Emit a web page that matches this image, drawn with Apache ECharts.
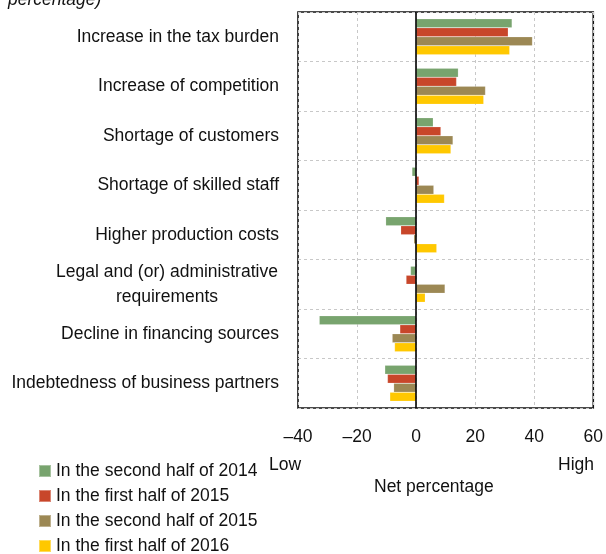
<!DOCTYPE html>
<html>
<head>
<meta charset="utf-8">
<script src="https://cdn.jsdelivr.net/npm/echarts@6/dist/echarts.min.js"></script>
<style>
  html, body { margin: 0; padding: 0; background: #fff; }
  #chart { width: 606px; height: 554px; }
</style>
</head>
<body>
<div id="chart"></div>
<script>
// Factors limiting business activity, net percentage
const categories = [
  'Increase in the tax burden',
  'Increase of competition',
  'Shortage of customers',
  'Shortage of skilled staff',
  'Higher production costs',
  'Legal and (or) administrative\nrequirements',
  'Decline in financing sources',
  'Indebtedness of business partners'
];
const seriesNames = [
  'In the second half of 2014',
  'In the first half of 2015',
  'In the second half of 2015',
  'In the first half of 2016'
];
const h2_2014 = [32.5, 14.3, 5.8, -1.4, -10.3, -1.9, -32.8, -10.6];
const h1_2015 = [31.2, 13.7, 8.4, 1.0, -5.2, -3.4, -5.5, -9.7];
const h2_2015 = [39.4, 23.5, 12.5, 6.0, -0.8, 9.8, -8.1, -7.6];
const h1_2016 = [31.7, 22.9, 11.8, 9.6, 7.0, 3.1, -7.3, -8.9];
const xTicks = [-40, -20, 0, 20, 40, 60];

const colors = ['#78a46e', '#c8462a', '#9c8854', '#ffc800'];
const values = [h2_2014, h1_2015, h2_2015, h1_2016];
const FONT = '"Liberation Sans", Arial, sans-serif';
const FS = 17.5;

const chart = echarts.init(document.getElementById('chart'));

const series = values.map((v, i) => {
  const s = {
    name: seriesNames[i],
    type: 'bar',
    data: v,
    barWidth: 9,
    barGap: '0%',
    itemStyle: { color: colors[i], borderColor: 'rgba(255,255,255,0.35)', borderWidth: 0.5 }
  };
  if (i === 0) {
    s.markLine = {
      silent: true,
      symbol: 'none',
      label: { show: false },
      lineStyle: { color: '#000', width: 1.6, type: 'solid' },
      data: [{ xAxis: 0 }]
    };
  }
  return s;
});

chart.setOption({
  animation: false,
  textStyle: { fontFamily: FONT },
  grid: { left: 298, right: 12, top: 12, bottom: 146, show: true, borderColor: '#111', borderWidth: 1.6 },
  legend: {
    orient: 'vertical',
    left: 38,
    top: 462,
    height: 120,
    padding: 0,
    icon: 'rect',
    itemWidth: 12,
    itemHeight: 12,
    itemGap: 7,
    selectedMode: false,
    textStyle: { fontSize: FS, lineHeight: 18, color: '#111', fontFamily: FONT },
    data: seriesNames
  },
  xAxis: {
    type: 'value',
    min: xTicks[0],
    max: xTicks[xTicks.length - 1],
    interval: 20,
    axisLine: { show: false },
    axisTick: { show: false },
    axisLabel: {
      fontSize: FS,
      color: '#111',
      margin: 20,
      formatter: v => (v < 0 ? '\u2013' + Math.abs(v) : String(v))
    },
    splitLine: { show: true, lineStyle: { color: '#c8c8c8', type: [3, 3], width: 1 } }
  },
  yAxis: {
    type: 'category',
    data: categories,
    inverse: true,
    axisLine: { show: false },
    axisTick: { show: false },
    splitLine: { show: true, lineStyle: { color: '#c8c8c8', type: [3, 3], width: 1 } },
    axisLabel: {
      fontSize: FS,
      color: '#111',
      margin: 19,
      lineHeight: 25,
      formatter: function (v) {
        if (v.indexOf('\n') >= 0) {
          const p = v.split('\n');
          return '{c|' + p[0] + '}\n{c|' + p[1] + '}';
        }
        return v;
      },
      rich: {
        c: { fontSize: FS, color: '#111', width: 224, align: 'center', lineHeight: 25, fontFamily: FONT }
      }
    }
  },
  graphic: [
    { type: 'text', left: 8, top: -9, style: { text: 'percentage)', font: 'italic ' + FS + 'px ' + FONT, fill: '#111' } },
    { type: 'text', left: 269, top: 456, style: { text: 'Low', font: FS + 'px ' + FONT, fill: '#111' } },
    { type: 'text', left: 558, top: 456, style: { text: 'High', font: FS + 'px ' + FONT, fill: '#111' } },
    { type: 'text', left: 374, top: 478, style: { text: 'Net percentage', font: FS + 'px ' + FONT, fill: '#111' } }
  ],
  series: series
});
</script>
</body>
</html>
